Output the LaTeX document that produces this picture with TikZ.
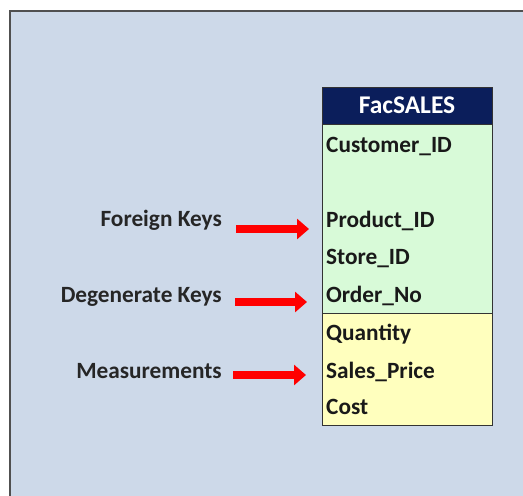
\documentclass[tikz,border=0pt]{standalone}
\usepackage{fontspec}
\setmainfont{Carlito}
\usetikzlibrary{arrows.meta}
\definecolor{panel}{HTML}{CDD9E9}
\definecolor{navy}{HTML}{0B1E5B}
\definecolor{keygreen}{HTML}{D8FAD8}
\definecolor{measyellow}{HTML}{FFFFBE}
\definecolor{frame}{HTML}{505050}
\tikzset{
  field/.style={anchor=base west, font=\bfseries\fontsize{23.3}{27}\selectfont, text=black!90, inner sep=0pt},
  note/.style={anchor=base east, font=\bfseries\fontsize{23.3}{27}\selectfont, text=black!85, inner sep=0pt},
  pointer/.style={red, line width=8pt, -{Triangle[length=12pt, width=20pt]}},
}
\begin{document}
\begin{tikzpicture}[x=1pt, y=-1pt]
\useasboundingbox (0,0) rectangle (523,496);
\fill[white] (0,0) rectangle (523,496);
% worksheet panel
\fill[panel] (10,11) rectangle (523,496);
\draw[frame, line width=1.6pt] (10,496) -- (10,11) -- (523,11);
% table body
\fill[navy] (322,87) rectangle (492,124);
\fill[keygreen] (322,124) rectangle (492,313);
\fill[measyellow] (322,313) rectangle (492,425);
\draw[black!80, line width=1pt] (322,87) rectangle (492,425);
\draw[black!80, line width=1pt] (322,124) -- (492,124);
\draw[black!80, line width=1pt] (322,313) -- (492,313);
\node[anchor=base, inner sep=0pt, font=\bfseries\fontsize{25.5}{29}\selectfont, text=white] (hdr) at (407,113) {FacSALES};
% fields
\node[field] (cust) at (326,152) {Customer\_ID};
\node[field] (prod) at (326,227) {Product\_ID};
\node[field] (store) at (326,264) {Store\_ID};
\node[field] (order) at (326,302) {Order\_No};
\node[field] (qty) at (326,340) {Quantity};
\node[field] (price) at (326,378) {Sales\_Price};
\node[field] (cost) at (326,414) {Cost};
% annotations
\node[note] (fk) at (222,226) {Foreign Keys};
\node[note] (dk) at (222,302) {Degenerate Keys};
\node[note] (ms) at (222,378) {Measurements};
\coordinate (fkS) at (236,229); \coordinate (fkE) at (309,229);
\coordinate (dkS) at (235,302); \coordinate (dkE) at (307,302);
\coordinate (msS) at (233,375); \coordinate (msE) at (306,375);
\draw[pointer] (fkS) -- (fkE);
\draw[pointer] (dkS) -- (dkE);
\draw[pointer] (msS) -- (msE);
\end{tikzpicture}
\end{document}
